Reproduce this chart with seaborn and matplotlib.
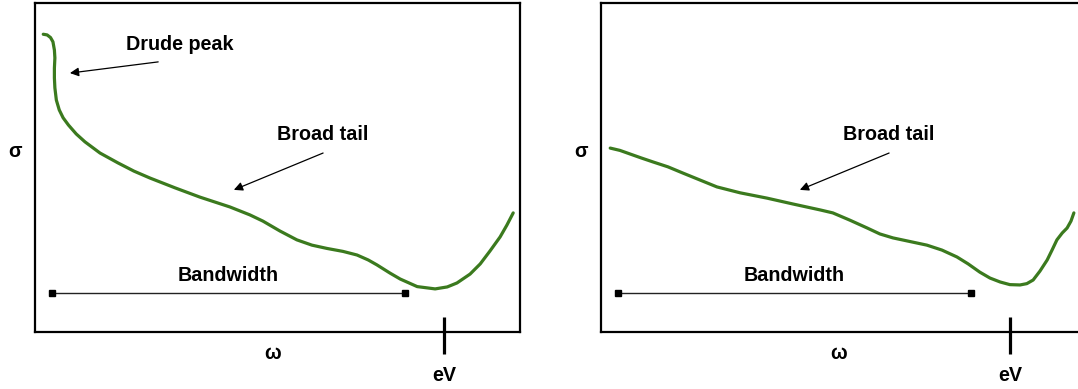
import matplotlib
matplotlib.use("Agg")
import matplotlib.pyplot as plt
import seaborn as sns
import pandas as pd
from matplotlib.transforms import blended_transform_factory

sns.set_theme(style="white")
plt.rcParams["font.family"] = ["Liberation Sans", "DejaVu Sans"]
plt.rcParams["font.weight"] = "bold"
plt.rcParams["text.color"] = "black"

# Optical conductivity sketch: metal with a Drude peak (left) and without (right)
omega_drude = [1.7, 2.5, 3.2, 3.7, 4.0, 4.1, 4.0, 4.0, 4.1, 4.4, 5.0, 5.8, 6.9, 8.5,
               10.3, 13.4, 17.1, 20.4, 23.7, 28.9, 34.0, 40.2, 44.3, 47.0, 50.5, 54.0,
               57.1, 60.2, 63.5, 66.4, 68.7, 70.5, 73.2, 75.3, 78.8, 82.5, 85.0, 87.0,
               89.7, 91.8, 93.8, 95.9, 97.3, 98.6]
sigma_drude = [90.5, 90.3, 89.5, 88.2, 85.7, 83.3, 80.2, 77.2, 74.2, 70.5, 67.5, 65.1,
               62.9, 60.2, 57.8, 54.4, 51.4, 48.9, 46.8, 43.8, 41.0, 38.0, 35.6, 33.7,
               30.7, 28.0, 26.4, 25.4, 24.5, 23.4, 21.9, 20.4, 17.9, 16.1, 13.8, 13.1,
               13.7, 14.9, 17.6, 20.7, 24.6, 28.9, 32.5, 36.2]

omega_tail = [1.9, 3.9, 6.0, 8.3, 10.7, 13.8, 16.9, 20.4, 23.9, 28.7, 34.2, 39.6, 45.2,
              47.8, 51.3, 54.9, 57.5, 60.2, 63.7, 67.2, 70.3, 73.4, 75.7, 78.1, 80.2,
              82.3, 84.3, 86.4, 87.8, 89.1, 90.5, 92.0, 93.0, 94.0, 95.1, 96.1, 96.9, 97.5]
sigma_tail = [55.9, 55.2, 54.1, 52.9, 51.7, 50.2, 48.3, 46.2, 44.1, 42.3, 40.7, 38.9,
              37.1, 36.2, 34.0, 31.6, 29.8, 28.6, 27.5, 26.4, 24.9, 22.8, 20.7, 18.2,
              16.4, 15.2, 14.4, 14.3, 14.7, 15.8, 18.5, 21.9, 24.9, 28.0, 30.1, 31.6,
              33.7, 36.2]

bandwidth_omega = [3.5, 76.3]
bandwidth_sigma = 11.85
ev_omega = 84.3

CURVE = "#3b7a1e"
FS = 14.2

fig = plt.figure(figsize=(10.78, 3.89), dpi=100)
ax_left = fig.add_axes([35 / 1078, 57 / 389, 485 / 1078, 329 / 389])
ax_right = fig.add_axes([601 / 1078, 57 / 389, 485 / 1078, 329 / 389])

panels = [
    (ax_left, omega_drude, sigma_drude),
    (ax_right, omega_tail, sigma_tail),
]

for ax, w, s in panels:
    df = pd.DataFrame({"omega": w, "sigma": s})
    sns.lineplot(data=df, x="omega", y="sigma", sort=False, estimator=None,
                 color=CURVE, lw=2.3, ax=ax, solid_capstyle="round",
                 solid_joinstyle="round")
    ax.set_xlim(0, 100)
    ax.set_ylim(0, 100)
    ax.set_xticks([])
    ax.set_yticks([])
    ax.set_xlabel("")
    ax.set_ylabel("")
    for sp in ax.spines.values():
        sp.set_visible(True)
        sp.set_color("black")
        sp.set_linewidth(1.6)

    # bandwidth bar
    ax.plot(bandwidth_omega, [bandwidth_sigma] * 2, color="#222222", lw=1.0,
            marker="s", ms=4.5, mfc="black", mec="black")
    ax.text(sum(bandwidth_omega) / 2, 15.6, "Bandwidth", ha="center",
            va="baseline", fontsize=FS, fontweight="bold", color="black")

    # broad-tail label and arrow
    ax.text(59.4, 58.4, "Broad tail", ha="center", va="baseline",
            fontsize=FS, fontweight="bold", color="black")
    ax.annotate("", xy=(41.0, 43.2), xytext=(59.4, 54.4),
                arrowprops=dict(arrowstyle="-|>", color="black", lw=0.9,
                                mutation_scale=13, shrinkA=0, shrinkB=0))

    # energy marker on the frequency axis
    trans = blended_transform_factory(ax.transData, ax.transAxes)
    ax.plot([ev_omega, ev_omega], [0.046, -0.067], transform=trans,
            clip_on=False, color="black", lw=2.3, solid_capstyle="butt")
    ax.text(ev_omega, -0.149, "eV", transform=trans, ha="center",
            va="baseline", fontsize=FS, fontweight="bold", color="black")

    # axis symbols
    ax.text(0.49, -0.082, "ω", transform=ax.transAxes, ha="center",
            va="baseline", fontsize=FS, fontweight="bold", color="black")
    ax.text(-0.041, 0.532, "σ", transform=ax.transAxes, ha="center",
            va="baseline", fontsize=FS, fontweight="bold", color="black")

# Drude peak annotation (left panel only)
ax_left.text(29.8, 85.7, "Drude peak", ha="center", va="baseline",
             fontsize=FS, fontweight="bold", color="black")
ax_left.annotate("", xy=(7.2, 78.7), xytext=(25.4, 82.1),
                 arrowprops=dict(arrowstyle="-|>", color="black", lw=0.9,
                                 mutation_scale=13, shrinkA=0, shrinkB=0))

fig.savefig("out.png", dpi=100)
